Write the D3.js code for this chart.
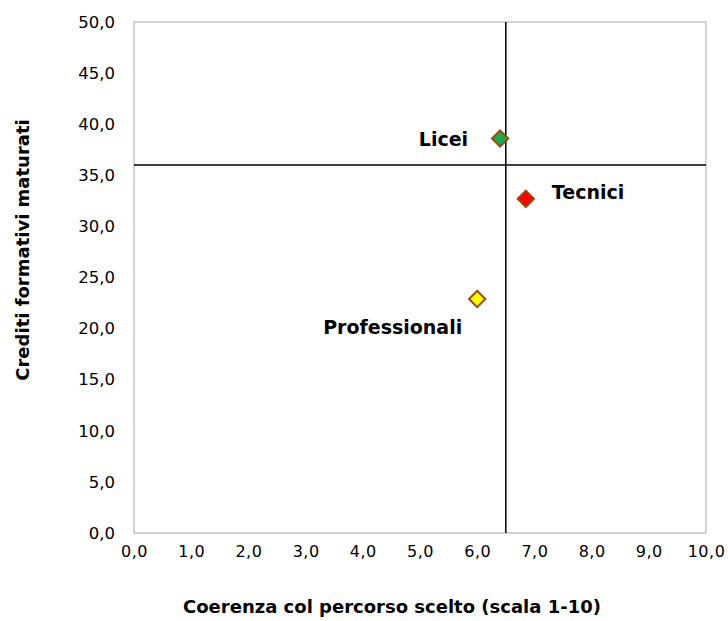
<!DOCTYPE html>
<meta charset="utf-8">
<title>Crediti vs coerenza</title>
<script src="https://d3js.org/d3.v7.min.js"></script>
<style>
body { margin: 0; background: #fff; }
text { font-family: "DejaVu Sans", Verdana, sans-serif; fill: #000; }
</style>
<div id="chart"></div>
<script>
// data
const groups = ["Licei", "Tecnici", "Professionali"];
const coerenza = [6.4, 6.85, 6.0];
const crediti = [38.6, 32.7, 22.9];
const colors = ["#1fa64a", "#ff0000", "#ffff00"];
const refX = 6.5, refY = 36.0;
const xTicks = [0,1,2,3,4,5,6,7,8,9,10];
const yTicks = [0,5,10,15,20,25,30,35,40,45,50];

const W = 728, H = 621;
const margin = {top: 22, right: 22, bottom: 88, left: 134};
const width = W - margin.left - margin.right,
      height = H - margin.top - margin.bottom;

const svg = d3.select("#chart").append("svg")
    .attr("width", W).attr("height", H);
const g = svg.append("g")
    .attr("transform", `translate(${margin.left},${margin.top})`);

const x = d3.scaleLinear().domain([0, 10]).range([0, width]);
const y = d3.scaleLinear().domain([0, 50]).range([height, 0]);
const fmt = d => d.toFixed(1).replace(".", ",");

// plot border
g.append("rect")
    .attr("width", width).attr("height", height)
    .attr("fill", "none").attr("stroke", "#a6a6a6").attr("stroke-width", 1);

// axes (labels only)
const xAxis = g.append("g").attr("transform", `translate(0,${height})`)
    .call(d3.axisBottom(x).tickValues(xTicks).tickFormat(fmt).tickSize(0).tickPadding(13));
xAxis.select(".domain").remove();
xAxis.selectAll("text").style("font-size", "16px").style("font-family", "DejaVu Sans")
    .style("letter-spacing", "0.5px");

const yAxis = g.append("g")
    .call(d3.axisLeft(y).tickValues(yTicks).tickFormat(fmt).tickSize(0).tickPadding(19));
yAxis.select(".domain").remove();
yAxis.selectAll("text").style("font-size", "16.5px").style("font-family", "DejaVu Sans");

// reference lines
g.append("line")
    .attr("x1", x(refX)).attr("x2", x(refX))
    .attr("y1", 0).attr("y2", height)
    .attr("stroke", "#000").attr("stroke-width", 1.5);
g.append("line")
    .attr("x1", 0).attr("x2", width)
    .attr("y1", y(refY)).attr("y2", y(refY))
    .attr("stroke", "#000").attr("stroke-width", 1.5);

// points
const pts = groups.map((n, i) => ({name: n, x: coerenza[i], y: crediti[i], c: colors[i]}));
g.selectAll("path.pt")
    .data(pts)
    .enter()
    .append("path")
    .attr("class", "pt")
    .attr("d", d3.symbol().type(d3.symbolDiamond2).size(170))
    .attr("transform", d => `translate(${x(d.x)},${y(d.y)})`)
    .attr("fill", d => d.c)
    .attr("stroke", "#9c4a12")
    .attr("stroke-width", 2);

// labels
const lab = {
    "Licei": {dx: -32, dy: 7, anchor: "end"},
    "Tecnici": {dx: 26, dy: 0, anchor: "start"},
    "Professionali": {dx: -15, dy: 35, anchor: "end"}
};
g.selectAll("text.lab")
    .data(pts)
    .enter()
    .append("text")
    .attr("class", "lab")
    .attr("x", d => x(d.x) + lab[d.name].dx)
    .attr("y", d => y(d.y) + lab[d.name].dy)
    .attr("text-anchor", d => lab[d.name].anchor)
    .style("font-size", "19px")
    .style("font-weight", "bold")
    .text(d => d.name);

// axis titles
svg.append("text")
    .attr("x", 392)
    .attr("y", 613)
    .attr("text-anchor", "middle")
    .style("font-size", "18px")
    .style("font-weight", "bold")
    .text("Coerenza col percorso scelto (scala 1-10)");

svg.append("text")
    .attr("transform", "translate(29,250) rotate(-90)")
    .attr("text-anchor", "middle")
    .style("font-size", "18px")
    .style("font-weight", "bold")
    .text("Crediti formativi maturati");
</script>
